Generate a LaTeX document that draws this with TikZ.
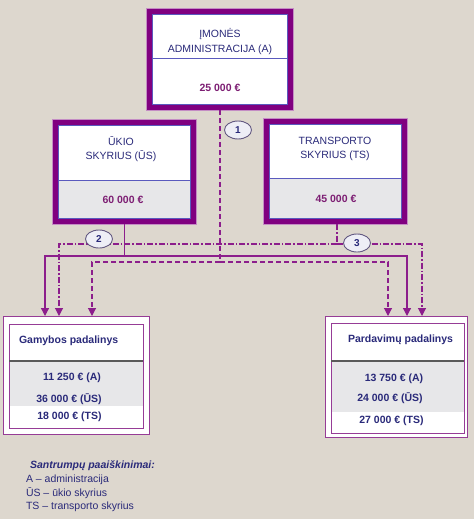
\documentclass[tikz,border=0pt]{standalone}
\usepackage{fontspec}
\setmainfont{Liberation Sans}
\usetikzlibrary{arrows.meta,shapes.geometric}
\definecolor{bgc}{RGB}{221,215,206}
\definecolor{band}{RGB}{128,0,128}
\definecolor{lightp}{RGB}{196,140,196}
\definecolor{innerb}{RGB}{90,90,190}
\definecolor{navy}{RGB}{42,42,122}
\definecolor{amt}{RGB}{125,30,115}
\definecolor{conn}{RGB}{140,30,140}
\definecolor{grayf}{RGB}{231,231,233}
\definecolor{ellf}{RGB}{238,238,246}
\definecolor{elld}{RGB}{100,90,130}
\definecolor{thinp}{RGB}{150,60,150}
\definecolor{divg}{RGB}{90,90,90}
\begin{document}
\begin{tikzpicture}[x=1pt,y=-1pt,
  every node/.style={font=\fontsize{10.5}{12}\selectfont, text=navy, inner sep=0pt, outer sep=0pt},
  bigbox/.style={rectangle, draw=band, line width=5pt, fill=white},
  lowbox/.style={rectangle, draw=thinp, line width=0.8pt, fill=white},
  lbl/.style={text height=7.5pt, text depth=0pt},
  amount/.style={lbl, font=\fontsize{10.5}{12}\selectfont\bfseries, text=amt},
  bamount/.style={lbl, font=\fontsize{10.5}{12}\selectfont\bfseries, text=navy},
  num/.style={ellipse, draw=elld, line width=0.9pt, fill=ellf, minimum width=27pt, minimum height=18pt, font=\fontsize{10}{11}\selectfont\bfseries, text=navy},
  solidc/.style={draw=conn, line width=1.2pt},
  dashc/.style={draw=conn, line width=1.1pt, dash pattern=on 5pt off 3pt},
  dotdashc/.style={draw=conn, line width=1.1pt, dash pattern=on 6pt off 2pt on 1.5pt off 2pt},
  tip/.style={-{Triangle[width=8pt,length=8pt]}},
]
\useasboundingbox (0,0) rectangle (474,519);
\fill[bgc] (0,0) rectangle (474,519);

% ---- top box
\node[bigbox, minimum width=141pt, minimum height=96pt] (adm) at (220,59.5) {};
\draw[lightp, line width=1pt] (146.5,8.5) rectangle (293.5,110.5);
\draw[innerb, line width=0.8pt] (152.4,14.4) rectangle (287.6,104.6);
\draw[innerb, line width=1pt] (152.4,59) -- (287.6,59);
\node[lbl] (admT1) at (220,34) {ĮMONĖS};
\node[lbl] (admT2) at (220,48.5) {ADMINISTRACIJA (A)};
\node[amount] (admA) at (220,88) {25 000 €};

% ---- UKIO box
\node[bigbox, minimum width=138pt, minimum height=99pt] (uk) at (124.5,172) {};
\draw[lightp, line width=1pt] (52.5,119.5) rectangle (196.5,224.5);
\fill[grayf] (58,180) rectangle (191,219);
\draw[innerb, line width=0.8pt] (58.4,125.4) rectangle (190.6,218.6);
\draw[innerb, line width=1pt] (58.4,180) -- (190.6,180);
\node[lbl] (ukT1) at (121,141.7) {ŪKIO};
\node[lbl] (ukT2) at (121,156) {SKYRIUS (ŪS)};
\node[amount] (ukA) at (123,199.5) {60 000 €};

% ---- TS box
\node[bigbox, minimum width=138pt, minimum height=100pt] (ts) at (335.5,171.5) {};
\draw[lightp, line width=1pt] (263.5,118.5) rectangle (407.5,224.5);
\fill[grayf] (269,178) rectangle (402,219);
\draw[innerb, line width=0.8pt] (269.4,124.4) rectangle (401.6,218.6);
\draw[innerb, line width=1pt] (269.4,178) -- (401.6,178);
\node[lbl] (tsT1) at (335,141) {TRANSPORTO};
\node[lbl] (tsT2) at (335,154.5) {SKYRIUS (TS)};
\node[amount] (tsA) at (336,199) {45 000 €};

% ---- bottom boxes
\node[lowbox, minimum width=146pt, minimum height=118pt] (gam) at (76,375) {};
\fill[grayf] (9.4,361) rectangle (142.6,406);
\draw[thinp, line width=0.8pt] (9,324) rectangle (143,428);
\draw[divg, line width=1.3pt] (9,361) -- (143,361);
\node[lbl, font=\fontsize{10.5}{12}\selectfont\bfseries, anchor=west] (gamT) at (19,340) {Gamybos padalinys};
\node[bamount] (gam1) at (72,377) {11 250 € (A)};
\node[bamount] (gam2) at (69,399) {36 000 € (ŪS)};
\node[bamount] (gam3) at (69.5,416) {18 000 € (TS)};

\node[lowbox, minimum width=142pt, minimum height=121pt] (par) at (396,376.5) {};
\fill[grayf] (331.4,361) rectangle (463.6,412);
\draw[thinp, line width=0.8pt] (331,323) rectangle (464,433);
\draw[divg, line width=1.3pt] (331,361) -- (464,361);
\node[lbl, font=\fontsize{10.5}{12}\selectfont\bfseries, anchor=west] (parT) at (348,338.5) {Pardavimų padalinys};
\node[bamount] (par1) at (394,377.5) {13 750 € (A)};
\node[bamount] (par2) at (390,398) {24 000 € (ŪS)};
\node[bamount] (par3) at (391.5,420) {27 000 € (TS)};

% ---- connectors
\coordinate (jA) at (220,262);
\coordinate (jU) at (124.5,256);
\coordinate (jT) at (337,244);
\draw[dashc] ([yshift=-2.5pt]adm.south) -- (jA);
\draw[dashc,tip] (jA) -| ([xshift=89pt]gam.north west);
\draw[dashc,tip] (jA) -| ([xshift=63pt]par.north west);
\draw[solidc] ([yshift=-2.5pt]uk.south) -- (jU);
\draw[solidc,tip] (jU) -| ([xshift=42pt]gam.north west);
\draw[solidc,tip] (jU) -| ([xshift=82pt]par.north west);
\draw[dotdashc] ([xshift=1.5pt,yshift=-2.5pt]ts.south) -- (jT);
\draw[dotdashc,tip] (jT) -| ([xshift=56pt]gam.north west);
\draw[dotdashc,tip] (jT) -| ([xshift=97pt]par.north west);

\node[num] (n1) at (238,130) {1};
\node[num] (n2) at (99,239) {2};
\node[num] (n3) at (357,243) {3};

% ---- legend
\node[lbl, font=\fontsize{10.5}{12}\selectfont\bfseries\itshape, anchor=west] (legT) at (30,465) {Santrumpų paaiškinimai:};
\node[lbl, anchor=west] (leg1) at (26,479) {A – administracija};
\node[lbl, anchor=west] (leg2) at (26,492.5) {ŪS – ūkio skyrius};
\node[lbl, anchor=west] (leg3) at (26,506) {TS – transporto skyrius};
\end{tikzpicture}
\end{document}
